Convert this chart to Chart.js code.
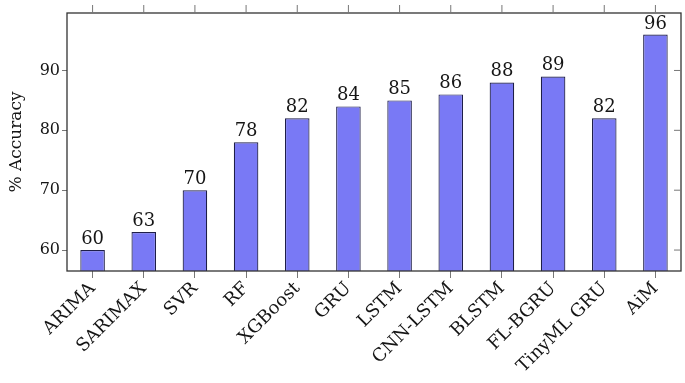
<!DOCTYPE html>
<html>
<head>
<meta charset="utf-8">
<script src="https://cdn.jsdelivr.net/npm/chart.js@4.4.0/dist/chart.umd.min.js"></script>
<style>
  html, body { margin: 0; padding: 0; background: #fff; }
  #wrap { width: 685px; height: 383px; }
</style>
</head>
<body>
<div id="wrap"><canvas id="chart" width="685" height="383"></canvas></div>
<script>
// model names and accuracy (%)
const models = ['ARIMA', 'SARIMAX', 'SVR', 'RF', 'XGBoost', 'GRU', 'LSTM', 'CNN-LSTM', 'BLSTM', 'FL-BGRU', 'TinyML GRU', 'AiM'];
const accuracy = [60, 63, 70, 78, 82, 84, 85, 86, 88, 89, 82, 96];
const yTicks = [60, 70, 80, 90];

const frameColor = '#333';
const textColor = '#151515';
const serif = "'DejaVu Serif', serif";

// frame, top/right tick marks and value labels above bars
const extras = {
  id: 'extras',
  afterDatasetsDraw(chart) {
    const { ctx, chartArea: a, scales } = chart;
    ctx.save();
    ctx.strokeStyle = frameColor;
    ctx.lineWidth = 1.3;
    ctx.strokeRect(a.left, a.top, a.right - a.left, a.bottom - a.top);

    ctx.lineWidth = 1;
    ctx.strokeStyle = '#777';
    models.forEach((m, i) => {
      const x = scales.x.getPixelForValue(i);
      ctx.beginPath();
      ctx.moveTo(x, a.top - 8);
      ctx.lineTo(x, a.top);
      ctx.stroke();
    });
    yTicks.forEach(v => {
      const y = scales.y.getPixelForValue(v);
      ctx.beginPath();
      ctx.moveTo(a.right - 7, y);
      ctx.lineTo(a.right, y);
      ctx.stroke();
    });

    ctx.fillStyle = textColor;
    ctx.font = '18px ' + serif;
    ctx.textAlign = 'center';
    ctx.textBaseline = 'alphabetic';
    chart.getDatasetMeta(0).data.forEach((bar, i) => {
      ctx.fillText(String(accuracy[i]), bar.x, bar.y - 6);
    });
    ctx.restore();
  }
};

new Chart(document.getElementById('chart'), {
  type: 'bar',
  data: {
    labels: models,
    datasets: [{
      data: accuracy,
      backgroundColor: '#7979f5',
      borderColor: '#1e1e48',
      borderWidth: 1.2,
      borderSkipped: false,
      categoryPercentage: 1,
      barPercentage: 0.48
    }]
  },
  options: {
    responsive: false,
    animation: false,
    layout: { padding: { top: 13, right: 4, left: 0, bottom: 0 } },
    plugins: {
      legend: { display: false },
      tooltip: { enabled: false }
    },
    scales: {
      x: {
        offset: true,
        afterFit(scale) { scale.height = 112; },
        grid: { drawOnChartArea: false, tickLength: 7, color: '#777', offset: false },
        border: { display: false },
        ticks: {
          color: textColor,
          font: { family: serif, size: 18 },
          maxRotation: 45,
          minRotation: 45,
          padding: 0,
          autoSkip: false
        }
      },
      y: {
        min: 56.5,
        max: 99.6,
        afterBuildTicks(scale) {
          scale.ticks = yTicks.map(v => ({ value: v }));
        },
        afterFit(scale) { scale.width = 67; },
        grid: { drawOnChartArea: false, tickLength: 5, color: '#777' },
        border: { display: false },
        ticks: {
          color: textColor,
          font: { family: serif, size: 16 },
          padding: 2
        },
        title: {
          display: true,
          text: '% Accuracy',
          color: textColor,
          font: { family: serif, size: 17 },
          padding: { top: 6, bottom: 0 }
        }
      }
    }
  },
  plugins: [extras]
});
</script>
</body>
</html>
